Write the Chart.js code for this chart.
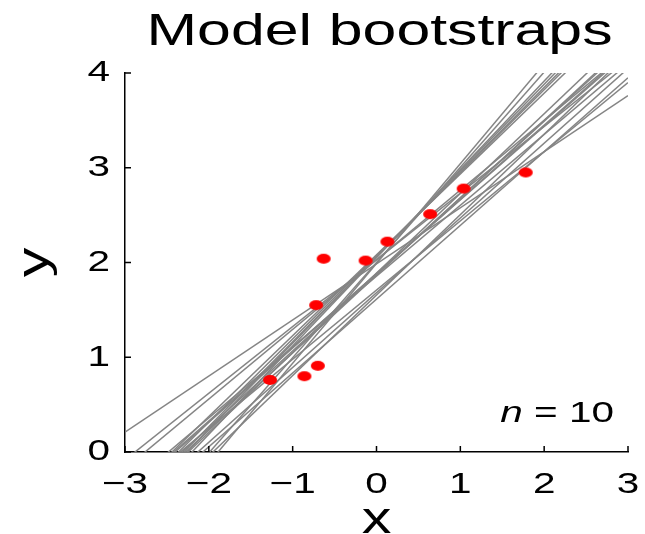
<!DOCTYPE html>
<html>
<head>
<meta charset="utf-8">
<title>Model bootstraps</title>
<script src="https://cdn.jsdelivr.net/npm/chart.js@4.4.1/dist/chart.umd.min.js"></script>
<style>
  html, body { margin: 0; padding: 0; background: #ffffff; }
  #wrap { width: 645px; height: 534px; }
</style>
</head>
<body>
<div id="wrap"><canvas id="chart" width="645" height="534"></canvas></div>
<script>
// Observed sample (n = 10)
const sampleX = [-1.27, -0.86, -0.70, -0.72, -0.63, -0.13, 0.13, 0.64, 1.04, 1.78];
const sampleY = [0.76, 0.80, 0.91, 1.55, 2.04, 2.02, 2.22, 2.51, 2.78, 2.95];

// Fitted lines, one per bootstrap resample: y = intercept + slope * x
const bootIntercepts = [1.990, 2.028, 2.029, 1.985, 1.656, 1.613, 1.681, 2.000, 2.051, 1.888,
                        2.059, 1.865, 2.058, 1.875, 1.709, 2.070, 1.882, 1.883, 2.081, 1.856];
const bootSlopes     = [1.053, 0.704, 0.735, 0.592, 0.849, 0.779, 0.789, 1.005, 0.932, 0.841,
                        0.911, 0.818, 0.895, 0.808, 0.730, 0.877, 0.784, 0.778, 0.853, 0.748];

// Axis ticks
const xTicks = [-3, -2, -1, 0, 1, 2, 3];
const yTicks = [0, 1, 2, 3, 4];

const X_MIN = -3, X_MAX = 3, Y_MIN = 0, Y_MAX = 4;
const FONT = '"Liberation Sans", Arial, Helvetica, sans-serif';
const STRETCH = 1.35;   // horizontal widening of all lettering

function fmt(v) { return v < 0 ? '\u2212' + Math.abs(v) : String(v); }

// Elliptical red marker
function makeMarker() {
  const c = document.createElement('canvas');
  c.width = 16; c.height = 12;
  const g = c.getContext('2d');
  g.fillStyle = '#ff0000';
  g.beginPath();
  g.ellipse(8, 6, 7, 5, 0, 0, Math.PI * 2);
  g.fill();
  return c;
}

function wideText(ctx, text, x, y, align, size, opts) {
  opts = opts || {};
  ctx.save();
  ctx.translate(x, y);
  if (opts.rotate) ctx.rotate(opts.rotate);
  ctx.scale(STRETCH, 1);
  ctx.font = (opts.italic ? 'italic ' : '') + size + 'px ' + FONT;
  ctx.fillStyle = '#000000';
  ctx.textAlign = align;
  ctx.textBaseline = opts.baseline || 'middle';
  ctx.fillText(text, 0, 0);
  ctx.restore();
}

// Inward tick marks, tick labels, titles and the sample-size note
const decorations = {
  id: 'decorations',
  afterDraw(chart) {
    const ctx = chart.ctx;
    const xs = chart.scales.x, ys = chart.scales.y;
    const area = chart.chartArea;
    ctx.save();
    ctx.strokeStyle = '#000000';
    ctx.lineWidth = 1.5;
    ctx.beginPath();
    xTicks.forEach(v => {
      const px = xs.getPixelForValue(v);
      ctx.moveTo(px, area.bottom);
      ctx.lineTo(px, area.bottom - 6);
    });
    yTicks.forEach(v => {
      const py = ys.getPixelForValue(v);
      ctx.moveTo(area.left, py);
      ctx.lineTo(area.left + 6, py);
    });
    ctx.stroke();
    ctx.restore();

    xTicks.forEach(v => {
      wideText(ctx, fmt(v), xs.getPixelForValue(v), area.bottom + 33, 'center', 30);
    });
    yTicks.forEach(v => {
      wideText(ctx, fmt(v), area.left - 15, ys.getPixelForValue(v), 'right', 30);
    });

    wideText(ctx, 'Model bootstraps', (area.left + area.right) / 2 + 3, 33, 'center', 45);
    wideText(ctx, 'x', (area.left + area.right) / 2, area.bottom + 69, 'center', 44);
    wideText(ctx, 'y', 36, (area.top + area.bottom) / 2, 'center', 44, { rotate: -Math.PI / 2 });

    // "n = 10" with italic n
    const noteY = ys.getPixelForValue(0.4);
    const right = area.right - 14;
    ctx.save();
    ctx.font = '30px ' + FONT;
    const restW = ctx.measureText(' = ' + sampleX.length).width * STRETCH;
    ctx.restore();
    wideText(ctx, ' = ' + sampleX.length, right, noteY, 'right', 30);
    wideText(ctx, 'n', right - restW, noteY, 'right', 30, { italic: true });
  }
};

const datasets = [{
  type: 'scatter',
  label: 'sample',
  data: sampleX.map((x, i) => ({ x: x, y: sampleY[i] })),
  pointStyle: makeMarker(),
  pointRadius: 6,
  pointHoverRadius: 6
}];

bootIntercepts.forEach((a, i) => {
  const b = bootSlopes[i];
  datasets.push({
    type: 'line',
    label: 'bootstrap ' + (i + 1),
    data: [{ x: X_MIN, y: a + b * X_MIN }, { x: X_MAX, y: a + b * X_MAX }],
    borderColor: '#858585',
    borderWidth: 1.5,
    pointRadius: 0,
    fill: false,
    tension: 0
  });
});

new Chart(document.getElementById('chart'), {
  data: { datasets: datasets },
  options: {
    responsive: false,
    animation: false,
    events: [],
    layout: { padding: { top: 73, right: 17, left: 0, bottom: 0 } },
    plugins: { legend: { display: false }, tooltip: { enabled: false }, title: { display: false } },
    scales: {
      x: {
        type: 'linear', min: X_MIN, max: X_MAX,
        grid: { display: false },
        border: { display: true, color: '#000000', width: 1.5 },
        ticks: { display: false, stepSize: 1 },
        afterFit(scale) { scale.height = 82; }
      },
      y: {
        type: 'linear', min: Y_MIN, max: Y_MAX,
        grid: { display: false },
        border: { display: true, color: '#000000', width: 1.5 },
        ticks: { display: false, stepSize: 1 },
        afterFit(scale) { scale.width = 125; }
      }
    }
  },
  plugins: [decorations]
});
</script>
</body>
</html>
